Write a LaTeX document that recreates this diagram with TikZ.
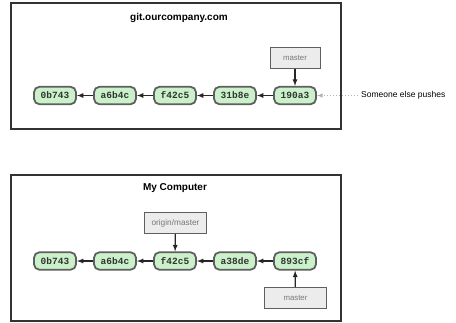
\documentclass[tikz,border=0pt]{standalone}
\usepackage{fontspec}
\setmainfont{Liberation Sans}
\setmonofont{Liberation Mono}
\usepackage{tikz}
\usetikzlibrary{arrows,positioning}

\definecolor{commitfill}{RGB}{202,241,202}
\definecolor{commitline}{RGB}{95,95,95}
\definecolor{reffill}{RGB}{236,236,236}
\definecolor{reftext}{RGB}{120,120,120}

\begin{document}
\begin{tikzpicture}[x=1pt,y=-1pt,
    commit/.style={draw=commitline,line width=1.8pt,fill=commitfill,rounded corners=5.5pt,
      minimum width=42pt,minimum height=17.5pt,inner sep=0pt,text=black!80,
      font=\ttfamily\bfseries\fontsize{9.5}{11}\selectfont},
    branch/.style={draw=commitline,line width=1pt,fill=reffill,minimum height=21pt,
      inner sep=0pt,text=reftext,font=\fontsize{7.8}{9}\selectfont},
    frame/.style={draw=black!80,line width=1.2pt},
    title/.style={font=\bfseries\fontsize{10}{12}\selectfont},
    parent/.style={-latex,line width=1.2pt,black!85}]
      \useasboundingbox (0,0) rectangle (456,322);

      % server
      \draw[frame] (11,3) rectangle (341,129);
      \node[title] (server) at (179,18) {git.ourcompany.com};
      \node[commit] (s1) at (55,95.5) {0b743};
      \node[commit] (s2) at (115,95.5) {a6b4c};
      \node[commit] (s3) at (175,95.5) {f42c5};
      \node[commit] (s4) at (235,95.5) {31b8e};
      \node[commit] (s5) at (295,95.5) {190a3};
      \node[branch,minimum width=50pt] (smaster) at (295,58) {master};
      \coordinate (push) at (358,95.5);
      \node[anchor=west,inner sep=0pt,font=\fontsize{8.5}{10}\selectfont] (pushtext) at (361,95.5) {Someone else pushes};

      \draw[parent] (s5)--(s4);
      \draw[parent] (s4)--(s3);
      \draw[parent] (s3)--(s2);
      \draw[parent] (s2)--(s1);
      \draw[parent] (smaster)--(s5);
      \draw[-latex,gray!60,dotted,line width=1pt] (push)--(s5);

      % local
      \draw[frame] (11,175) rectangle (341,321);
      \node[title] (local) at (175,188) {My Computer};
      \node[commit] (c1) at (55,261) {0b743};
      \node[commit] (c2) at (115,261) {a6b4c};
      \node[commit] (c3) at (175,261) {f42c5};
      \node[commit] (c4) at (235,261) {a38de};
      \node[commit] (c5) at (295,261) {893cf};
      \node[branch,minimum width=62pt,font=\fontsize{8.3}{10}\selectfont] (origin) at (175.5,223) {origin/master};
      \node[branch,minimum width=62pt] (cmaster) at (295.5,298) {master};

      \draw[parent] (c5)--(c4);
      \draw[parent] (c4)--(c3);
      \draw[parent] (c3)--(c2);
      \draw[parent] (c2)--(c1);
      \draw[parent] (origin)--(c3);
      \draw[parent] (cmaster)--(c5);
    \end{tikzpicture}
\end{document}
